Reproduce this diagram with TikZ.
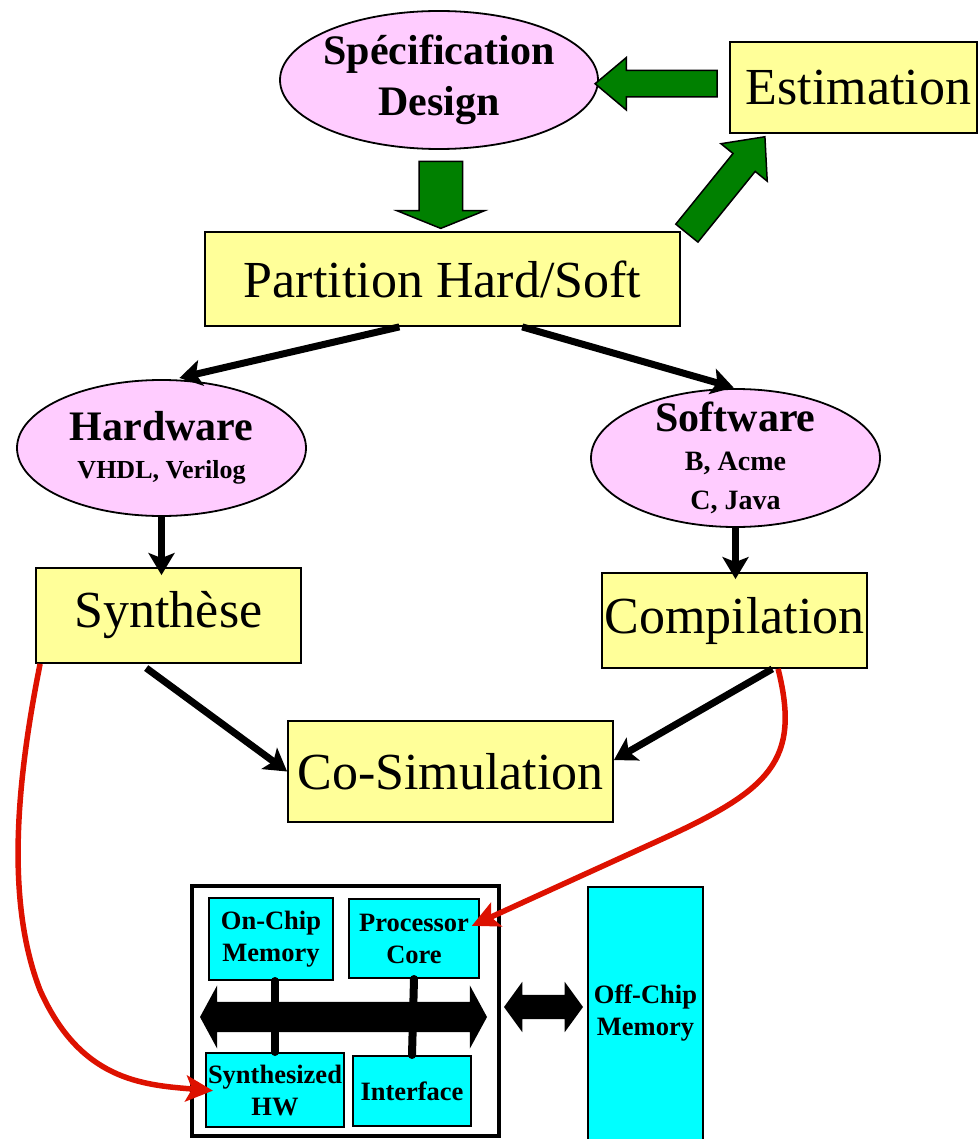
\documentclass[tikz,border=0pt]{standalone}
\usepackage{fontspec}
\setmainfont{Liberation Serif}
\usetikzlibrary{positioning,calc,shapes.geometric,shapes.arrows,arrows.meta}

\definecolor{boxyellow}{RGB}{255,255,153}
\definecolor{langpink}{RGB}{255,204,255}
\definecolor{fatgreen}{RGB}{0,128,0}
\definecolor{linkred}{RGB}{221,17,0}
\definecolor{chipcyan}{RGB}{0,255,255}

\begin{document}
\begin{tikzpicture}
[x=1pt, y=-1pt,
 stage/.style={draw, line width=1.8pt, fill=boxyellow, inner sep=0pt, font=\fontsize{52}{58}\selectfont},
 lang/.style={ellipse, draw, line width=1.8pt, fill=langpink, inner sep=-10pt, align=center},
 chiptext/.style={align=center, inner sep=0pt, font=\fontsize{26.5}{32}\selectfont\bfseries},
 block/.style={chiptext, draw, line width=2pt, fill=chipcyan},
 fatarrow/.style={single arrow, draw, line width=1.5pt, fill=fatgreen, inner xsep=0pt, single arrow head indent=0pt},
 busarrow/.style={double arrow, fill=black, inner xsep=0pt, double arrow head indent=0pt},
 flow/.style={line width=7pt, -{Stealth[length=22pt, width=26pt, inset=5pt]}},
 link/.style={draw=linkred, line width=5.5pt, -{Stealth[length=27pt, width=26pt, inset=6pt]}},
 wire/.style={line width=8pt, line cap=round}]
\useasboundingbox (0,0) rectangle (978,1139);

\node (spec)[lang, minimum width=318pt, minimum height=138pt, font=\fontsize{42}{51}\selectfont\bfseries] at (439,80) {Spécification\\Design};
\node (est)[stage, minimum width=247pt, minimum height=91pt] at (853.5,87.5) {\hspace{10pt}Estimation};
\node (part)[stage, minimum width=475pt, minimum height=94pt] at (442.5,279) {Partition Hard/Soft};

\node (hw)[lang, minimum width=289pt, minimum height=136pt, font=\fontsize{26}{38}\selectfont\bfseries] at (161.5,448)
  {{\fontsize{42}{46}\selectfont Hardware}\\VHDL, Verilog};
\node (sw)[lang, minimum width=289pt, minimum height=138pt, font=\fontsize{28}{39}\selectfont\bfseries] at (735.5,458)
  {{\fontsize{42}{46}\selectfont Software}\\B, Acme\\C, Java};
\node (syn)[stage, minimum width=265pt, minimum height=95pt] at (168.5,615.5) {Synthèse};
\node (comp)[stage, minimum width=265pt, minimum height=95pt] at (734.5,620.5) {Compilation};
\node (cosim)[stage, minimum width=325pt, minimum height=101pt] at (450.5,771.5) {Co-Simulation};

% green block arrows
\node (g1)[fatarrow, rotate=180, minimum height=122pt, inner ysep=12.5pt, single arrow head extend=13pt, single arrow tip angle=80] at ($(spec.east)!0.5!(est.west)$) {};
\node (g2)[fatarrow, rotate=-90, minimum height=67pt, inner ysep=21pt, single arrow head extend=22pt, single arrow tip angle=136] at ($(spec.south)!0.5!(part.north)$) {};
\node (g3)[fatarrow, rotate=51, minimum height=124pt, inner ysep=13.5pt, single arrow head extend=15.5pt, single arrow tip angle=84] at ($(part.north east)+(40,-40)$) {};

\draw[flow, shorten >=6pt] (part.-132) -- (hw.80);
\draw[flow, shorten >=2pt] (part.-31) -- (sw.north);
\draw[flow, shorten >=-8pt] (hw.south) -- (hw.south |- syn.north);
\draw[flow, shorten >=-7pt] (sw.south) -- (sw.south |- comp.north);
\draw[flow, shorten <=7pt] (syn.-120) -- (cosim.west);
\draw[flow] (comp.-52) -- (cosim.4);

% platform
\node (soc)[draw, line width=4.5pt, minimum width=307pt, minimum height=250pt] at (345.5,1011) {};
\node (onchip)[block, minimum width=124pt, minimum height=82pt] at (271,939) {On-Chip\\Memory};
\node (proc)[block, minimum width=130pt, minimum height=79pt] at (414,938.5) {Processor\\Core};
\node (synhw)[block, minimum width=138pt, minimum height=74pt] at (275,1090) {Synthesized\\HW};
\node (iface)[block, minimum width=118pt, minimum height=70pt] at (412,1091) {Interface};
\node (offchip)[block, minimum width=115pt, minimum height=260pt, anchor=north] at (645.5,886) {};
\node (offtext)[chiptext, below=99pt of offchip.north] {Off-Chip\\Memory};

\node (bus)[busarrow, minimum height=287pt, inner ysep=15pt, double arrow head extend=16.5pt, double arrow tip angle=123] at (343.5,1017) {};
\node (ext)[busarrow, minimum height=79pt, inner ysep=12pt, double arrow head extend=13pt, double arrow tip angle=108] at (543.5,1007) {};
\draw[wire] (onchip.south -| synhw.north) -- (synhw.north);
\draw[wire] (proc.south) -- (iface.north);

% red links
\coordinate (hwbend) at (40,990);
\coordinate (swbend) at (660,840);
\draw[link, shorten >=-8pt] ([xshift=5pt]syn.south west) .. controls +(-23,115) and +(-35,-90) .. (hwbend)
  .. controls +(40,90) and +(-63,-5) .. (synhw.west);
\draw[link, shorten >=-9pt] (comp.-48) .. controls +(23,92) and +(110,-50) .. (swbend)
  .. controls +(-66,30) and +(48,-22) .. (proc.14);

\end{tikzpicture}
\end{document}
